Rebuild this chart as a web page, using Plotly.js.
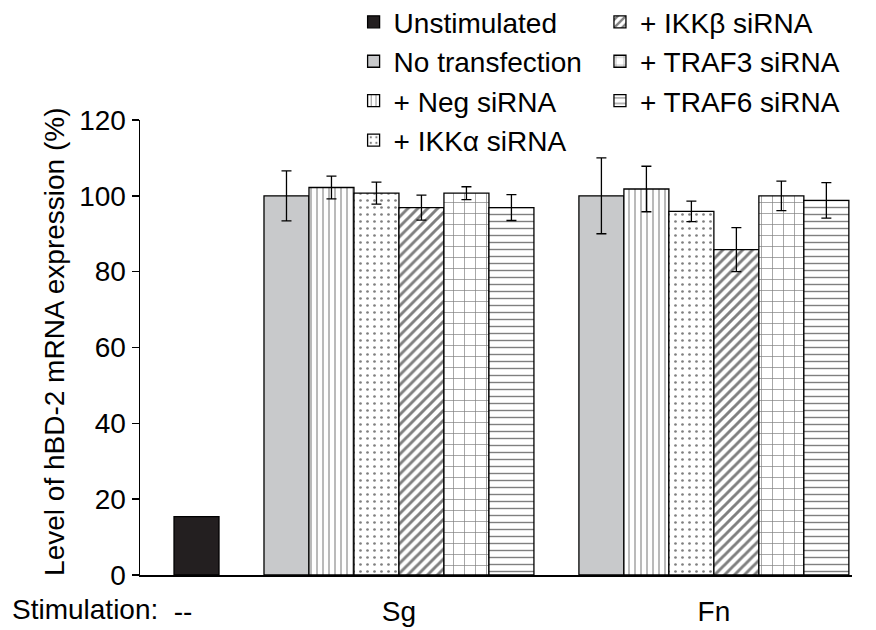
<!DOCTYPE html>
<html>
<head>
<meta charset="utf-8">
<script src="https://cdn.plot.ly/plotly-3.0.1.min.js"></script>
<style>html,body{margin:0;padding:0;background:#fff;}#chart{width:876px;height:630px;}</style>
</head>
<body>
<div id="chart"></div>
<script>
// ---- data ----
const groups = ['--', 'Sg', 'Fn'];
const seriesNames = ['Unstimulated', 'No transfection', '+ Neg siRNA', '+ IKKα siRNA', '+ IKKβ siRNA', '+ TRAF3 siRNA', '+ TRAF6 siRNA'];
const unstimulatedValue = [15.4];
const sgValues = [100.0, 102.2, 100.7, 96.9, 100.7, 96.9];
const sgErrors = [6.6, 3.0, 2.9, 3.3, 1.7, 3.4];
const fnValues = [100.0, 101.8, 95.9, 85.8, 100.0, 98.8];
const fnErrors = [10.0, 6.0, 2.7, 5.8, 3.9, 4.7];
const yTickValues = [0, 20, 40, 60, 80, 100, 120];
const yTitle = 'Level of hBD-2 mRNA expression (%)';
const xPrefix = 'Stimulation:';

// ---- layout constants ----
const FONT = 'Liberation Sans, Arial, Helvetica, sans-serif';
const FS = 28;
const groupStart = {'--': 0, 'Sg': 2, 'Fn': 9};
const styles = [
  {color: '#231f20'},
  {color: '#c8c9cb'},
  {pattern: {shape: '|', size: 6, solidity: 0.18}},
  {pattern: {shape: '.', size: 7, solidity: 0.12}},
  {pattern: {shape: '/', size: 7, solidity: 0.42}},
  {pattern: {shape: '+', size: 11, solidity: 0.12}},
  {pattern: {shape: '-', size: 7, solidity: 0.2}}
];

const traces = [];
seriesNames.forEach((name, i) => {
  const st = styles[i];
  const marker = {
    color: st.color || '#ffffff',
    line: {color: '#000000', width: 1.3}
  };
  if (st.pattern) {
    marker.pattern = Object.assign({fgcolor: '#000000', bgcolor: '#ffffff', fillmode: 'overlay'}, st.pattern);
  }
  let x, y, err;
  if (i === 0) {
    x = [groupStart['--']];
    y = unstimulatedValue;
    err = null;
  } else {
    x = [groupStart['Sg'] + (i - 1), groupStart['Fn'] + (i - 1)];
    y = [sgValues[i - 1], fnValues[i - 1]];
    err = [sgErrors[i - 1], fnErrors[i - 1]];
  }
  const tr = {
    type: 'bar', name: name, x: x, y: y, width: 1,
    marker: marker,
    legend: i <= 3 ? 'legend' : 'legend2',
    hoverinfo: 'skip'
  };
  if (err) tr.error_y = {type: 'data', array: err, visible: true, color: '#000000', thickness: 1.3, width: 5};
  traces.push(tr);
});

const groupCenters = groups.map(g => g === '--' ? groupStart[g] - 0.3 : groupStart[g] + 2.5);
const fnt = {family: FONT, size: FS, color: '#000000'};

const layout = {
  width: 876, height: 630,
  margin: {l: 140, r: 24, t: 120, b: 55, autoexpand: false},
  paper_bgcolor: '#ffffff', plot_bgcolor: '#ffffff',
  font: fnt,
  barmode: 'overlay',
  showlegend: true,
  xaxis: {
    range: [-1.256, 14.57],
    showline: true, linecolor: '#000000', linewidth: 1.5,
    showgrid: false, zeroline: false, ticks: '',
    tickmode: 'array', tickvals: groupCenters, ticktext: groups,
    ticklabelstandoff: 11,
    tickfont: fnt,
    fixedrange: true
  },
  yaxis: {
    range: [0, 120],
    showline: true, linecolor: '#000000', linewidth: 1.5,
    showgrid: false, zeroline: false,
    ticks: 'outside', ticklen: 7, tickwidth: 1.5, tickcolor: '#000000',
    tickmode: 'array', tickvals: yTickValues,
    tickfont: fnt,
    fixedrange: true
  },
  legend: {
    x: 0.30, y: 1.27, xanchor: 'left', yanchor: 'top',
    font: fnt, bgcolor: 'rgba(0,0,0,0)', traceorder: 'normal', itemwidth: 30,
    tracegroupgap: 0
  },
  legend2: {
    x: 0.646, y: 1.27, xanchor: 'left', yanchor: 'top',
    font: fnt, bgcolor: 'rgba(0,0,0,0)', traceorder: 'normal', itemwidth: 30,
    tracegroupgap: 0
  },
  annotations: [
    {
      text: xPrefix, xref: 'paper', yref: 'paper',
      x: -0.183, y: -0.075, xanchor: 'left', yanchor: 'middle',
      showarrow: false, font: fnt
    },
    {
      text: yTitle, xref: 'paper', yref: 'paper', textangle: -90,
      x: -0.121, y: 0.512, xanchor: 'center', yanchor: 'middle',
      showarrow: false, font: fnt
    }
  ]
};

Plotly.newPlot('chart', traces, layout, {displayModeBar: false, staticPlot: true});
</script>
</body>
</html>
